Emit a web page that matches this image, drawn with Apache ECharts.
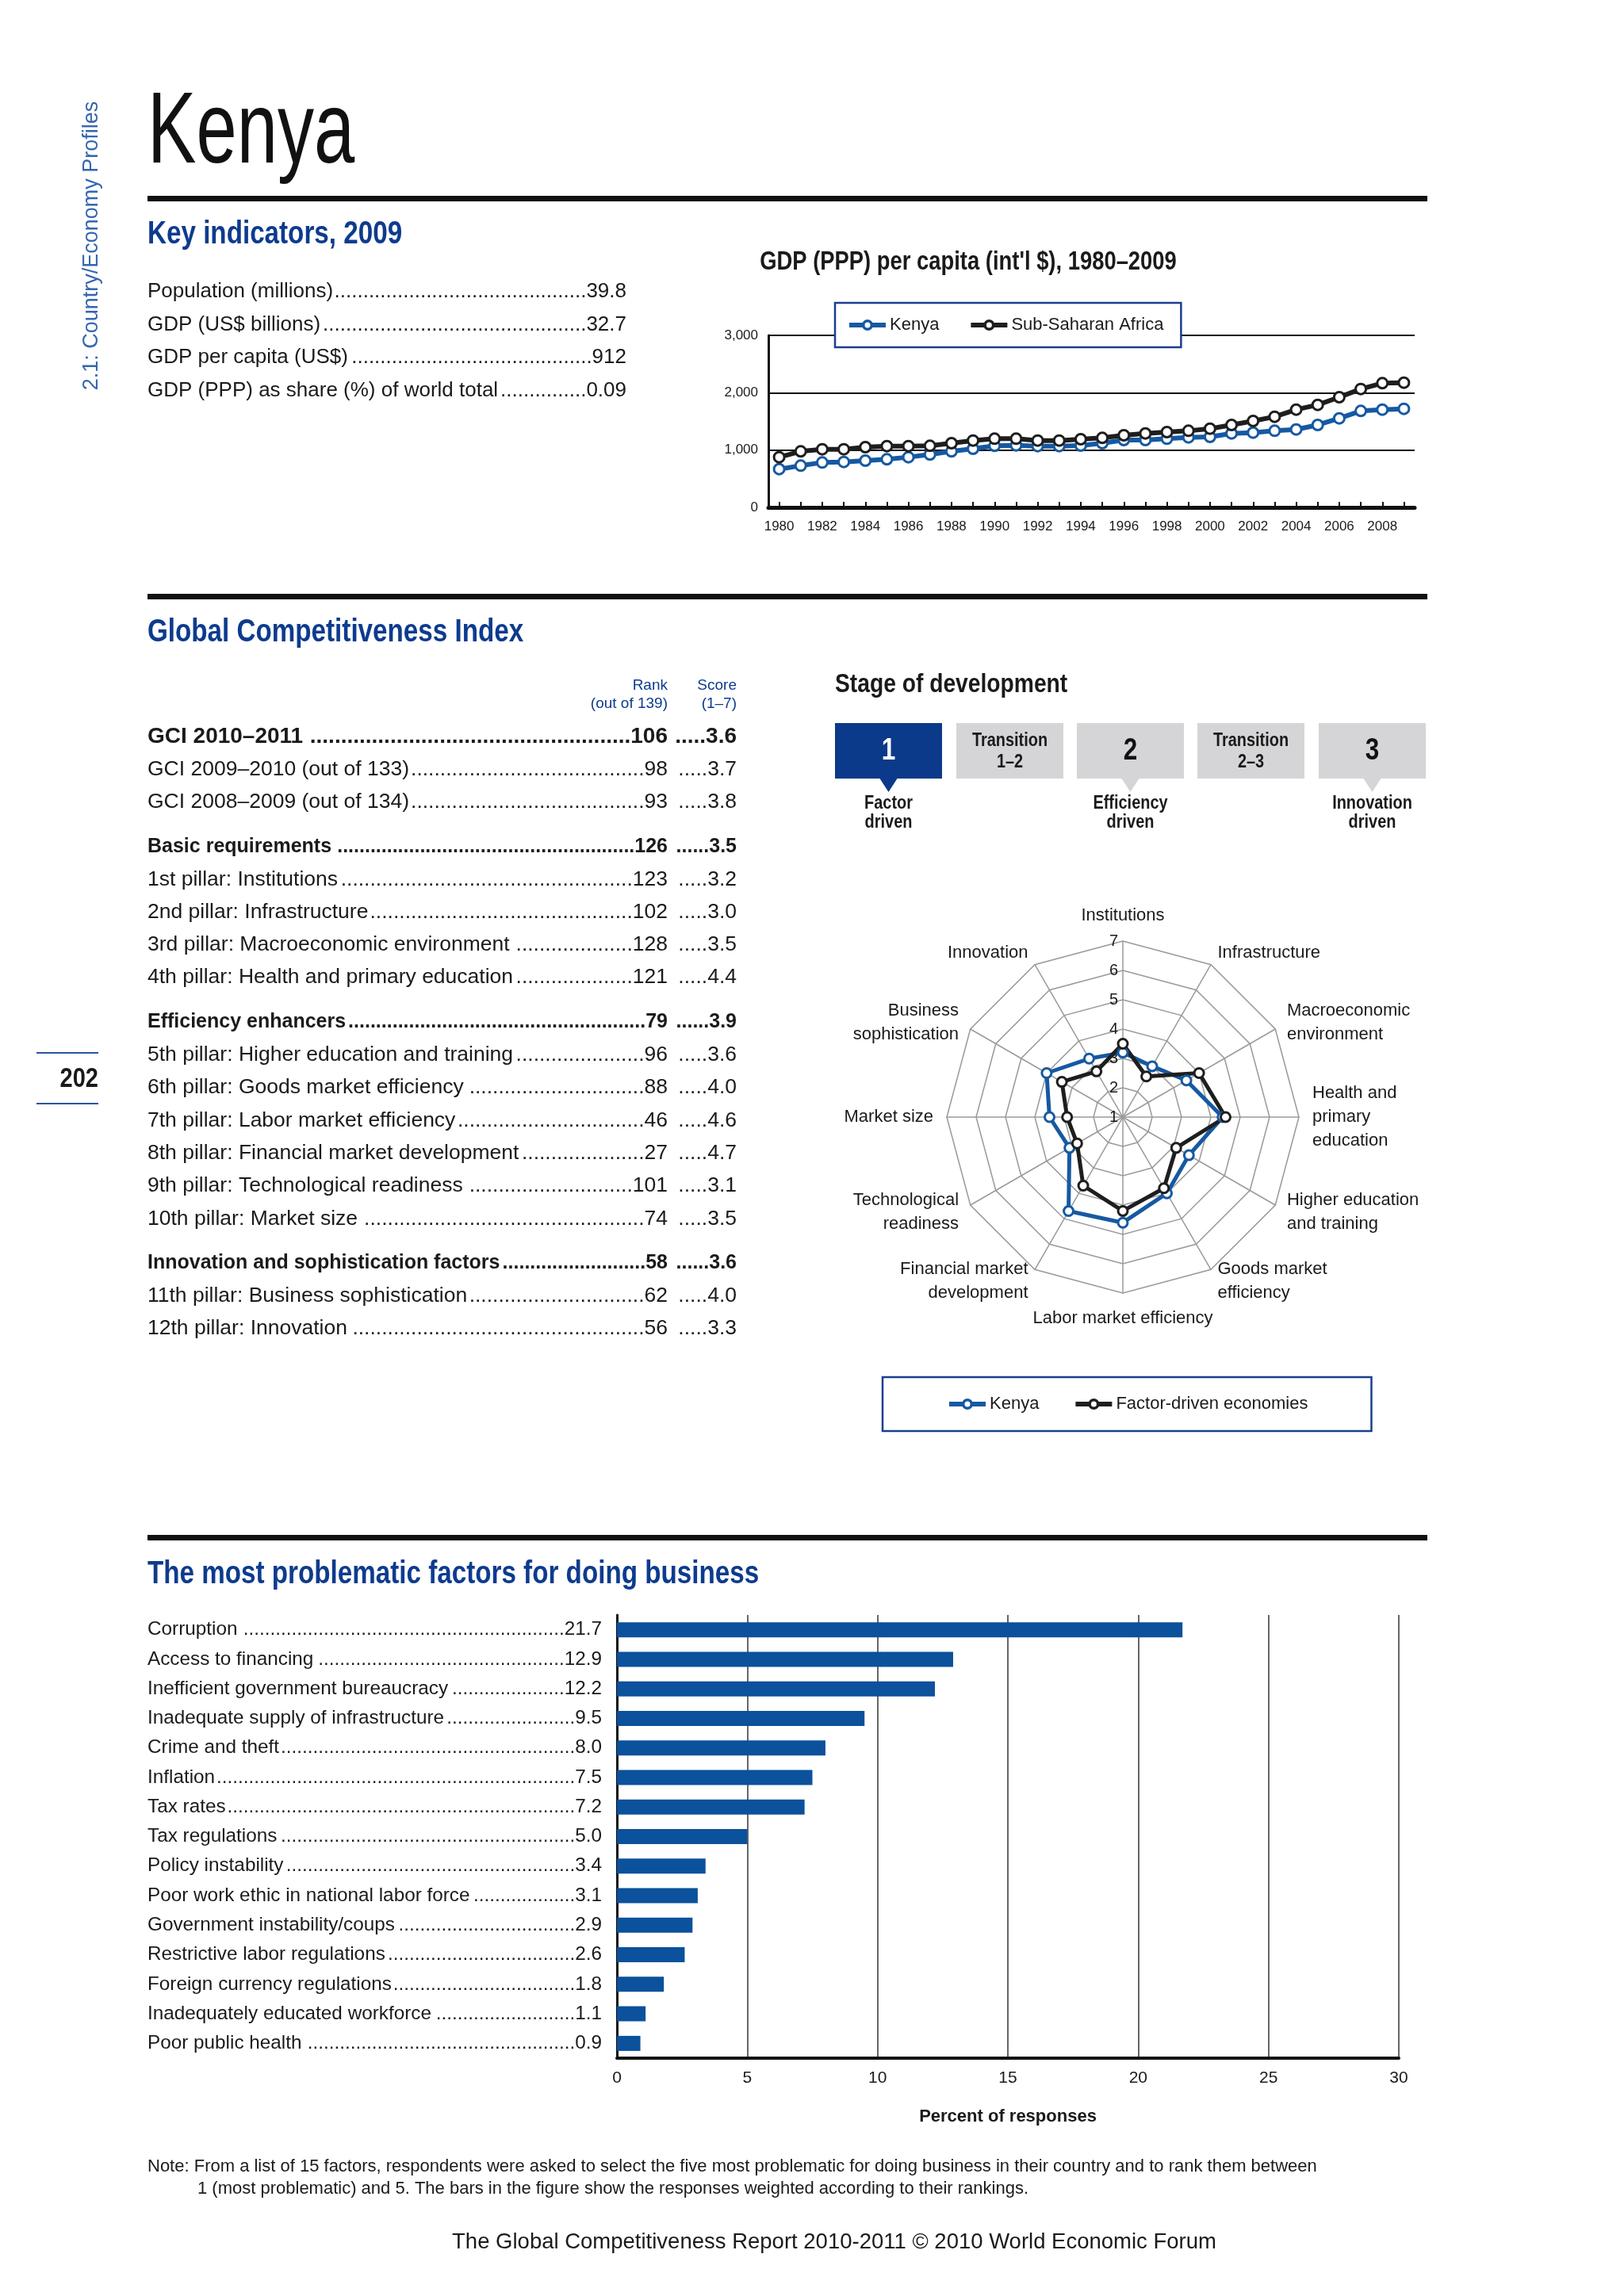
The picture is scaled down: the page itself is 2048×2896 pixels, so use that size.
<!DOCTYPE html>
<html>
<head>
<meta charset="utf-8">
<title>Kenya</title>
<script src="https://cdn.jsdelivr.net/npm/echarts@6/dist/echarts.min.js"></script>
<style>
  html, body { margin: 0; padding: 0; background: #fff; }
  #page { width: 2048px; height: 2896px; }
</style>
</head>
<body>
<div id="page"></div>
<script>
// ---- data ----
const keyLabels = ['Population (millions)', 'GDP (US$ billions)', 'GDP per capita (US$)', 'GDP (PPP) as share (%) of world total'];
const keyValues = ['39.8', '32.7', '912', '0.09'];

const years = ['1980', '1981', '1982', '1983', '1984', '1985', '1986', '1987', '1988', '1989',
  '1990', '1991', '1992', '1993', '1994', '1995', '1996', '1997', '1998', '1999',
  '2000', '2001', '2002', '2003', '2004', '2005', '2006', '2007', '2008', '2009'];
const kenyaGdp = [668, 728, 783, 793, 816, 839, 876, 922, 977, 1023, 1074, 1083, 1069, 1069, 1078,
  1120, 1175, 1175, 1198, 1221, 1230, 1290, 1304, 1336, 1359, 1438, 1553, 1682, 1705, 1719];
const ssaGdp = [876, 977, 1014, 1014, 1051, 1069, 1069, 1074, 1120, 1166, 1198, 1198, 1166, 1166, 1189,
  1212, 1258, 1290, 1313, 1336, 1373, 1438, 1507, 1581, 1705, 1788, 1922, 2065, 2166, 2175];
const gdpTicks = [0, 1000, 2000, 3000];

const gciLabels = ['GCI 2010–2011', 'GCI 2009–2010 (out of 133)', 'GCI 2008–2009 (out of 134)',
  'Basic requirements', '1st pillar: Institutions', '2nd pillar: Infrastructure',
  '3rd pillar: Macroeconomic environment', '4th pillar: Health and primary education',
  'Efficiency enhancers', '5th pillar: Higher education and training', '6th pillar: Goods market efficiency',
  '7th pillar: Labor market efficiency', '8th pillar: Financial market development',
  '9th pillar: Technological readiness', '10th pillar: Market size',
  'Innovation and sophistication factors', '11th pillar: Business sophistication', '12th pillar: Innovation'];
const gciRanks = ['106', '98', '93', '126', '123', '102', '128', '121', '79', '96', '88', '46', '27', '101', '74', '58', '62', '56'];
const gciScores = ['3.6', '3.7', '3.8', '3.5', '3.2', '3.0', '3.5', '4.4', '3.9', '3.6', '4.0', '4.6', '4.7', '3.1', '3.5', '3.6', '4.0', '3.3'];
const gciGroupRows = [3, 8, 15];

const stageNames = ['1', 'Transition\n1–2', '2', 'Transition\n2–3', '3'];
const stageDriven = ['Factor\ndriven', '', 'Efficiency\ndriven', '', 'Innovation\ndriven'];
const stageCurrent = 0;

const pillarNames = ['Institutions', 'Infrastructure', 'Macroeconomic\nenvironment', 'Health and\nprimary\neducation',
  'Higher education\nand training', 'Goods market\nefficiency', 'Labor market efficiency',
  'Financial market\ndevelopment', 'Technological\nreadiness', 'Market size', 'Business\nsophistication', 'Innovation'];
const kenyaScores = [3.2, 3.0, 3.5, 4.4, 3.6, 4.0, 4.6, 4.7, 3.1, 3.5, 4.0, 3.3];
const factorScores = [3.5, 2.6, 4.0, 4.5, 3.1, 3.8, 4.2, 3.7, 2.8, 2.9, 3.4, 2.8];

const factors = ['Corruption', 'Access to financing', 'Inefficient government bureaucracy',
  'Inadequate supply of infrastructure', 'Crime and theft', 'Inflation', 'Tax rates', 'Tax regulations',
  'Policy instability', 'Poor work ethic in national labor force', 'Government instability/coups',
  'Restrictive labor regulations', 'Foreign currency regulations', 'Inadequately educated workforce',
  'Poor public health'];
const factorValues = [21.7, 12.9, 12.2, 9.5, 8.0, 7.5, 7.2, 5.0, 3.4, 3.1, 2.9, 2.6, 1.8, 1.1, 0.9];

// ---- style ----
const SANS = '"Liberation Sans", Arial, Helvetica, sans-serif';
const COND = 0.83;   // squeeze for the condensed headline face
const HEAD = '#0d3b8e';
const KEN = '#1659a2';
const DARK = '#1e1e1e';
const INK = '#1a1a1a';
const ICON = 'path://M0,4H17V10H0Z M29,4H46V10H29Z M16,7A7,7,0,1,1,30,7A7,7,0,1,1,16,7Z M19.5,7A3.5,3.5,0,1,0,26.5,7A3.5,3.5,0,1,0,19.5,7Z';

const mctx = document.createElement('canvas').getContext('2d');
function tw(s, size, weight) {
  mctx.font = (weight || 'normal') + ' ' + size + 'px ' + SANS;
  return mctx.measureText(s).width;
}
function dots(n) { return new Array(Math.max(n, 0) + 1).join('.'); }

const els = [];
function txt(s, x, y, o) {
  o = o || {};
  const a = o.align || 'left';
  els.push({
    type: 'text', x: x, y: y, rotation: o.rotation || 0, scaleX: o.scaleX || 1, z: 10,
    style: {
      text: s, x: 0, y: 0, fill: o.color || INK, lineHeight: o.lineHeight,
      fontSize: o.size || 25, fontWeight: o.weight || 'normal', fontFamily: SANS,
      textAlign: a, align: a, textVerticalAlign: 'middle', verticalAlign: 'middle'
    }
  });
}
function head(s, x, y, size, color, align) {
  txt(s, x, y, { size: size, weight: 'bold', color: color || INK, align: align || 'left', scaleX: COND });
}
function rect(x, y, w, h, fill) {
  els.push({ type: 'rect', z: 5, shape: { x: x, y: y, width: w, height: h }, style: { fill: fill } });
}
function tri(cx, y, hw, h, fill) {
  els.push({ type: 'polygon', z: 5, shape: { points: [[cx - hw, y], [cx + hw, y], [cx, y + h]] }, style: { fill: fill } });
}
// label ....... value, value right-aligned at x1
function leader(label, value, x0, x1, y, o) {
  txt(label, x0, y, o);
  const wl = tw(label, o.size, o.weight), wv = tw(value, o.size, o.weight), wd = tw('.', o.size, o.weight);
  const n = Math.floor((x1 - x0 - wl - wv - 1) / wd);
  txt(dots(n) + value, x1, y, Object.assign({}, o, { align: 'right' }));
}

// ---- page furniture ----
txt('2.1: Country/Economy Profiles', 116, 310, { size: 27, color: '#3566b0', align: 'center', rotation: Math.PI / 2 });
rect(46, 1327, 78, 2, '#2a55a0');
rect(46, 1391, 78, 2, '#2a55a0');
head('202', 124, 1361, 35, INK, 'right');

txt('Kenya', 186, 170, { size: 128, scaleX: 0.72, color: '#111' });
rect(186, 247, 1614, 7, '#111');
rect(186, 749, 1614, 7, '#111');
rect(186, 1936, 1614, 7, '#111');

head('Key indicators, 2009', 186, 296, 40, HEAD);
head('Global Competitiveness Index', 186, 798, 40, HEAD);
head('The most problematic factors for doing business', 186, 1986, 40, HEAD);

keyLabels.forEach(function (s, i) {
  leader(s, keyValues[i], 186, 790, 368 + i * 41.5, { size: 26 });
});

head("GDP (PPP) per capita (int'l $), 1980–2009", 1221, 331, 33, INK, 'center');

// GCI table
txt('Rank', 842, 865, { size: 19, color: HEAD, align: 'right' });
txt('(out of 139)', 842, 888, { size: 19, color: HEAD, align: 'right' });
txt('Score', 929, 865, { size: 19, color: HEAD, align: 'right' });
txt('(1–7)', 929, 888, { size: 19, color: HEAD, align: 'right' });
let groups = 0;
gciLabels.forEach(function (s, i) {
  if (gciGroupRows.indexOf(i) >= 0) groups++;
  const y = 929 + i * 41.3 + 15 * groups;
  const o = i === 0 ? { size: 28, weight: 'bold' } : (gciGroupRows.indexOf(i) >= 0 ? { size: 25, weight: 'bold' } : { size: 26.5 });
  leader(s, gciRanks[i], 186, 842, y, o);
  const wd = tw('.', o.size, o.weight), wv = tw(gciScores[i], o.size, o.weight);
  txt(dots(Math.floor((929 - 850 - wv) / wd)) + gciScores[i], 929, y, Object.assign({}, o, { align: 'right' }));
});

// Stage of development
head('Stage of development', 1053, 864, 34, INK);
const boxX = [1053, 1206, 1358, 1510, 1663];
stageNames.forEach(function (s, i) {
  const on = i === stageCurrent;
  const fill = on ? '#0b3a8a' : '#d5d5d7';
  const cx = boxX[i] + 67.5;
  rect(boxX[i], 912, 135, 70, fill);
  if (stageDriven[i]) {
    tri(cx, 982, 11, 17, fill);
    txt(stageDriven[i], cx, 1025, { size: 24, weight: 'bold', align: 'center', lineHeight: 24, scaleX: COND });
  }
  if (s.indexOf('\n') >= 0) {
    txt(s, cx, 948, { size: 24, weight: 'bold', align: 'center', lineHeight: 27, scaleX: COND });
  } else {
    txt(s, cx, 948, { size: 38, weight: 'bold', align: 'center', scaleX: COND, color: on ? '#fff' : '#111' });
  }
});

// note + footer
txt('Note: From a list of 15 factors, respondents were asked to select the five most problematic for doing business in their country and to rank them between', 186, 2733, { size: 22 });
txt('1 (most problematic) and 5. The bars in the figure show the responses weighted according to their rankings.', 249, 2761, { size: 22 });
txt('The Global Competitiveness Report 2010-2011 © 2010 World Economic Forum', 1052, 2828, { size: 27.5, align: 'center' });

// radar axes run counter-clockwise in ECharts, the page runs clockwise
const radarOrder = [0, 11, 10, 9, 8, 7, 6, 5, 4, 3, 2, 1];
const indicators = radarOrder.map(function (k, j) {
  const ind = { name: pillarNames[k], min: 1, max: 7 };
  if (j === 0) ind.axisLabel = { show: true };
  return ind;
});

// bar labels: name on the left, dots + value flush right
const barLabelW = 573, barFont = 24.3;
const barRich = {};
factors.forEach(function (f, i) {
  barRich['n' + i] = { fontSize: barFont, color: INK, fontFamily: SANS };
  barRich['v' + i] = { fontSize: barFont, color: INK, fontFamily: SANS, align: 'right', width: barLabelW - tw(f, barFont) };
});

const chart = echarts.init(document.getElementById('page'), null, { width: 2048, height: 2896 });
chart.setOption({
  animation: false,
  backgroundColor: '#fff',
  textStyle: { fontFamily: SANS },
  grid: [
    { left: 969, top: 423, width: 815, height: 217 },
    { left: 778, top: 2037, width: 986, height: 559 }
  ],
  xAxis: [
    {
      gridIndex: 0, type: 'category', data: years, boundaryGap: true,
      axisLine: { lineStyle: { color: '#111', width: 5 } },
      axisTick: { show: true, alignWithLabel: true, inside: true, interval: 0, length: 7, lineStyle: { color: '#111', width: 2 } },
      axisLabel: { interval: 1, fontSize: 17, color: INK, margin: 16, hideOverlap: false }
    },
    {
      gridIndex: 1, type: 'value', min: 0, max: 30, interval: 5,
      axisLine: { show: true, lineStyle: { color: '#111', width: 4 } },
      axisTick: { show: false },
      splitLine: { show: true, lineStyle: { color: '#333', width: 1.5 } },
      axisLabel: { fontSize: 21, color: INK, margin: 15 },
      name: 'Percent of responses', nameLocation: 'middle', nameGap: 63,
      nameTextStyle: { fontSize: 22, fontWeight: 'bold', color: INK }
    }
  ],
  yAxis: [
    {
      gridIndex: 0, type: 'value', min: gdpTicks[0], max: gdpTicks[gdpTicks.length - 1], interval: gdpTicks[1] - gdpTicks[0],
      axisLine: { show: true, lineStyle: { color: '#111', width: 3 } },
      axisTick: { show: false },
      splitLine: { show: true, lineStyle: { color: '#111', width: 2 } },
      axisLabel: { fontSize: 17, color: INK, margin: 13, formatter: function (v) { return v.toLocaleString('en-US'); } }
    },
    {
      gridIndex: 1, type: 'category', data: factors, inverse: true,
      axisLine: { show: true, lineStyle: { color: '#111', width: 3 } },
      axisTick: { show: false },
      axisLabel: {
        interval: 0, fontSize: barFont, color: INK, margin: 19, rich: barRich,
        formatter: function (name) {
          const i = factors.indexOf(name);
          const v = factorValues[i].toFixed(1);
          const n = Math.floor((barLabelW - tw(name, barFont) - tw(v, barFont) - 1) / tw('.', barFont));
          return '{n' + i + '|' + name + '}{v' + i + '|' + dots(n) + v + '}';
        }
      }
    }
  ],
  radar: {
    center: [1416, 1409], radius: 222, startAngle: 90, shape: 'polygon', splitNumber: 6,
    indicator: indicators,
    nameGap: 17,
    axisName: { color: INK, fontSize: 22, fontFamily: SANS, lineHeight: 30 },
    axisLine: { lineStyle: { color: '#9a9a9a', width: 1.5 } },
    splitLine: { lineStyle: { color: '#9a9a9a', width: 1.5 } },
    splitArea: { show: false },
    axisTick: { show: false },
    axisLabel: { show: false, color: INK, fontSize: 20, margin: 6 }
  },
  legend: [
    {
      left: 1053, top: 382, orient: 'horizontal',
      padding: [17, 22, 17, 18], itemGap: 40, itemWidth: 46, itemHeight: 14,
      backgroundColor: '#fff', borderColor: '#1b3f8f', borderWidth: 2.5, borderRadius: 0,
      textStyle: { fontSize: 22, color: INK },
      selectedMode: false,
      data: [
        { name: 'Kenya', icon: ICON, itemStyle: { color: KEN, borderWidth: 0 } },
        { name: 'Sub-Saharan Africa', icon: ICON, itemStyle: { color: DARK, borderWidth: 0 } }
      ]
    },
    {
      left: 1113, top: 1737, orient: 'horizontal',
      padding: [23, 80, 23, 84], itemGap: 46, itemWidth: 46, itemHeight: 14,
      backgroundColor: '#fff', borderColor: '#1b3f8f', borderWidth: 2.5, borderRadius: 0,
      textStyle: { fontSize: 22, color: INK },
      selectedMode: false,
      data: [
        { name: 'Kenya', icon: ICON, itemStyle: { color: KEN, borderWidth: 0 } },
        { name: 'Factor-driven economies', icon: ICON, itemStyle: { color: DARK, borderWidth: 0 } }
      ]
    }
  ],
  series: [
    {
      name: 'Kenya', type: 'line', xAxisIndex: 0, yAxisIndex: 0, data: kenyaGdp,
      symbol: 'circle', symbolSize: 13, color: KEN,
      lineStyle: { color: KEN, width: 6 },
      itemStyle: { color: '#fff', borderColor: KEN, borderWidth: 3 }
    },
    {
      name: 'Sub-Saharan Africa', type: 'line', xAxisIndex: 0, yAxisIndex: 0, data: ssaGdp,
      symbol: 'circle', symbolSize: 13, color: DARK,
      lineStyle: { color: DARK, width: 6 },
      itemStyle: { color: '#fff', borderColor: DARK, borderWidth: 3 }
    },
    {
      type: 'radar', symbol: 'circle', symbolSize: 12,
      data: [
        {
          name: 'Kenya', value: radarOrder.map(function (k) { return kenyaScores[k]; }),
          lineStyle: { color: KEN, width: 5 },
          itemStyle: { color: '#fff', borderColor: KEN, borderWidth: 3 }
        },
        {
          name: 'Factor-driven economies', value: radarOrder.map(function (k) { return factorScores[k]; }),
          lineStyle: { color: DARK, width: 5 },
          itemStyle: { color: '#fff', borderColor: DARK, borderWidth: 3 }
        }
      ]
    },
    {
      type: 'bar', xAxisIndex: 1, yAxisIndex: 1, data: factorValues, barWidth: 19,
      itemStyle: { color: '#0b519c' }
    }
  ],
  graphic: { elements: els }
});
</script>
</body>
</html>
